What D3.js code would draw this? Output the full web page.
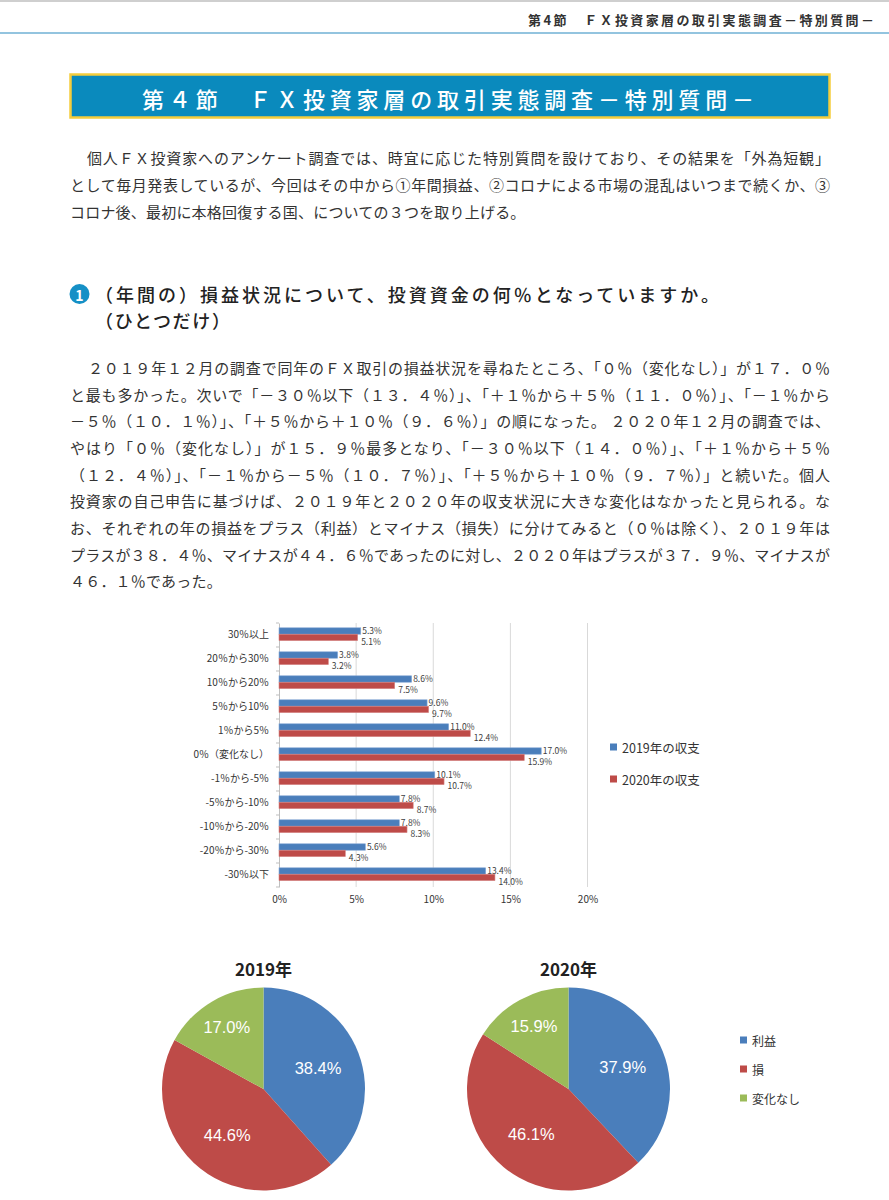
<!DOCTYPE html>
<html lang="ja">
<head>
<meta charset="utf-8">
<script src="https://cdn.jsdelivr.net/npm/d3@7/dist/d3.min.js"></script>
<style>
html,body{margin:0;padding:0;background:#fff;}
svg{display:block;}
</style>
</head>
<body>
<svg id="page" width="889" height="1200"></svg>
<script>
// ---------- text content ----------
const headerText = "第4節　ＦＸ投資家層の取引実態調査－特別質問－";
const titleText = "第４節　ＦＸ投資家層の取引実態調査－特別質問－";
const introLines = [
  "個人ＦＸ投資家へのアンケート調査では、時宜に応じた特別質問を設けており、その結果を「外為短観」",
  "として毎月発表しているが、今回はその中から①年間損益、②コロナによる市場の混乱はいつまで続くか、③",
  "コロナ後、最初に本格回復する国、についての３つを取り上げる。"
];
const questionNumber = "1";
const questionLines = [
  "（年間の）損益状況について、投資資金の何％となっていますか。",
  "（ひとつだけ）"
];
const bodyLines = [
  "２０１９年１２月の調査で同年のＦＸ取引の損益状況を尋ねたところ、「０％（変化なし）」が１７．０％",
  "と最も多かった。次いで「－３０％以下（１３．４％）」、「＋１％から＋５％（１１．０％）」、「－１％から",
  "－５％（１０．１％）」、「＋５％から＋１０％（９．６％）」の順になった。 ２０２０年１２月の調査では、",
  "やはり「０％（変化なし）」が１５．９％最多となり、「－３０％以下（１４．０％）」、「＋１％から＋５％",
  "（１２．４％）」、「－１％から－５％（１０．７％）」、「＋５％から＋１０％（９．７％）」と続いた。個人",
  "投資家の自己申告に基づけば、２０１９年と２０２０年の収支状況に大きな変化はなかったと見られる。な",
  "お、それぞれの年の損益をプラス（利益）とマイナス（損失）に分けてみると（０％は除く）、２０１９年は",
  "プラスが３８．４％、マイナスが４４．６％であったのに対し、２０２０年はプラスが３７．９％、マイナスが",
  "４６．１％であった。"
];

// ---------- chart data ----------
const categories = ["30％以上","20％から30％","10％から20％","5％から10％","1％から5％","0％（変化なし）","-1％から-5％","-5％から-10％","-10％から-20％","-20％から-30％","-30％以下"];
const values2019 = [5.3, 3.8, 8.6, 9.6, 11.0, 17.0, 10.1, 7.8, 7.8, 5.6, 13.4];
const values2020 = [5.1, 3.2, 7.5, 9.7, 12.4, 15.9, 10.7, 8.7, 8.3, 4.3, 14.0];
const seriesNames = ["2019年の収支", "2020年の収支"];
const xTickValues = [0, 5, 10, 15, 20];

const pieCategories = ["利益", "損", "変化なし"];
const pie2019 = [38.4, 44.6, 17.0];
const pie2020 = [37.9, 46.1, 15.9];
const pieTitles = ["2019年", "2020年"];

// ---------- styles ----------
const JP = "'Noto Sans CJK JP','Noto Sans',sans-serif";
const BLUE = "#4a7ebb", RED = "#be4b48", GREEN = "#9bbb59";

const svg = d3.select("#page");

// top rules
svg.append("rect").attr("x",0).attr("y",0).attr("width",889).attr("height",2).attr("fill","#cfcfcf");
svg.append("rect").attr("x",0).attr("y",32).attr("width",889).attr("height",2).attr("fill","#93c4df");

svg.append("text").attr("x",528).attr("y",19).attr("dominant-baseline","central")
  .attr("font-family",JP).attr("font-size",13).attr("font-weight",700).attr("fill","#333")
  .attr("textLength",346).attr("lengthAdjust","spacing").text(headerText);

// title box
svg.append("rect").attr("x",70.5).attr("y",74.5).attr("width",759).attr("height",43)
  .attr("fill","#0a8abd").attr("stroke","#f5cd3c").attr("stroke-width",2.5);
svg.append("text").attr("x",142).attr("y",97.5).attr("dominant-baseline","central")
  .attr("font-family",JP).attr("font-size",22).attr("font-weight",500).attr("fill","#fff")
  .attr("textLength",612).attr("lengthAdjust","spacing").text(titleText);

// paragraph helper
function paragraph(lines, y0, step, indentX) {
  lines.forEach((t, i) => {
    const x = i === 0 ? indentX : 70;
    const last = i === lines.length - 1;
    const el = svg.append("text").attr("x", x).attr("y", y0 + i * step)
      .attr("dominant-baseline","central")
      .attr("font-family", JP).attr("font-size", 15).attr("fill", "#333").text(t);
    if (!last) el.attr("textLength", 830 - x).attr("lengthAdjust","spacing");
    else el.attr("letter-spacing", 0.2);
  });
}
paragraph(introLines, 157, 27, 87);

// question heading
svg.append("circle").attr("cx",79.5).attr("cy",294).attr("r",10).attr("fill","#1590c6");
svg.append("text").attr("x",79.5).attr("y",294.5).attr("text-anchor","middle").attr("dominant-baseline","central")
  .attr("font-family",JP).attr("font-size",14).attr("font-weight",700).attr("fill","#fff").text(questionNumber);
questionLines.forEach((t,i) => {
  const el = svg.append("text").attr("x",95).attr("y",294 + i*26).attr("dominant-baseline","central")
    .attr("font-family",JP).attr("font-size",18).attr("font-weight",500).attr("fill","#222").text(t);
  if (i === 0) el.attr("textLength",624).attr("lengthAdjust","spacing");
  else el.attr("textLength",135).attr("lengthAdjust","spacing");
});

paragraph(bodyLines, 367.5, 26.65, 88);

// ---------- bar chart ----------
const x = d3.scaleLinear().domain([0,20]).range([279,587.5]);
const y = d3.scaleBand().domain(categories).range([623,887]).padding(0);
const sub = d3.scaleBand().domain([0,1]).range([y.bandwidth()*0.2, y.bandwidth()*0.735]);

const chart = svg.append("g");
// gridlines
chart.selectAll("line.grid").data(xTickValues.filter(d=>d>0)).join("line")
  .attr("x1",d=>x(d)).attr("x2",d=>x(d)).attr("y1",623).attr("y2",887)
  .attr("stroke","#d9d9d9").attr("stroke-width",1);

// left axis
const yAxis = d3.axisLeft(y).tickSize(0).tickPadding(10);
const yg = chart.append("g").attr("transform",`translate(${x(0)},0)`).call(yAxis);
yg.select(".domain").attr("stroke","#bfbfbf");
yg.selectAll("text").attr("font-family",JP).attr("font-size",10).attr("fill","#333");
// boundary ticks
chart.selectAll("line.btick").data(d3.range(categories.length+1)).join("line")
  .attr("x1",x(0)-3).attr("x2",x(0))
  .attr("y1",i=>623 + i*y.bandwidth()).attr("y2",i=>623 + i*y.bandwidth())
  .attr("stroke","#bfbfbf");

// bottom axis labels
const xAxis = d3.axisBottom(x).tickValues(xTickValues).tickFormat(d=>d+"%").tickSize(0).tickPadding(10);
const xg = chart.append("g").attr("transform","translate(0,893)").call(xAxis);
xg.select(".domain").remove();
xg.selectAll("text").attr("font-family",JP).attr("font-size",10).attr("fill","#333").attr("dy","0");

const series = [values2019, values2020];
const colors = [BLUE, RED];
const strokes = ["#86a9d6","#d68886"];
series.forEach((vals, si) => {
  const g = chart.append("g");
  g.selectAll("rect").data(vals).join("rect")
    .attr("x", x(0)).attr("y", (d,i)=>y(categories[i]) + sub(si))
    .attr("width", d=>x(d)-x(0)).attr("height", sub.bandwidth())
    .attr("fill", colors[si]).attr("stroke", strokes[si]).attr("stroke-width",0.6);
  g.selectAll("text").data(vals).join("text")
    .attr("x", d=>x(d) + (si===0?1.5:3.5))
    .attr("y", (d,i)=>y(categories[i]) + sub(si) + sub.bandwidth()/2 + (si===0?-1:3.4))
    .attr("dominant-baseline","central")
    .attr("font-family",JP).attr("font-size",8.5).attr("fill","#404040")
    .text(d=>d.toFixed(1)+"%");
});

// legend
seriesNames.forEach((n,i) => {
  const ly = 747 + i*32;
  svg.append("rect").attr("x",610).attr("y",ly-3.5).attr("width",7).attr("height",7).attr("fill",colors[i]);
  svg.append("text").attr("x",622).attr("y",ly).attr("dominant-baseline","central")
    .attr("font-family",JP).attr("font-size",12.5).attr("fill","#333").text(n);
});

// ---------- pies ----------
const pieColors = d3.scaleOrdinal().domain(pieCategories).range([BLUE, RED, GREEN]);
const pieGen = d3.pie().sort(null).value(d=>d);
const R = 101.5;
const arc = d3.arc().innerRadius(0).outerRadius(R);
const pieCenters = [263.5, 568.5];
[pie2019, pie2020].forEach((vals, pi) => {
  const g = svg.append("g").attr("transform",`translate(${pieCenters[pi]},1089)`);
  const arcs = pieGen(vals);
  g.selectAll("path").data(arcs).join("path").attr("d",arc)
    .attr("fill",(d,i)=>pieColors(pieCategories[i]));
  g.selectAll("text").data(arcs).join("text")
    .attr("transform", d => {
      const lr = d.data < 20 ? R*0.71 : R*0.575;
      const a = (d.startAngle + d.endAngle)/2;
      return `translate(${Math.sin(a)*lr},${-Math.cos(a)*lr})`;
    })
    .attr("text-anchor","middle").attr("dominant-baseline","central")
    .attr("font-family","'Liberation Sans',Arial,sans-serif").attr("font-size",16.5)
    .attr("fill","#fff").text(d=>d.data.toFixed(1)+"%");
  svg.append("text").attr("x",pieCenters[pi]).attr("y",968).attr("text-anchor","middle")
    .attr("dominant-baseline","central").attr("font-family",JP).attr("font-size",17)
    .attr("font-weight",700).attr("fill","#222").text(pieTitles[pi]);
});

// pie legend
pieCategories.forEach((c,i) => {
  const ly = 1040 + i*29;
  svg.append("rect").attr("x",740).attr("y",ly-3.5).attr("width",7).attr("height",7).attr("fill",pieColors(c));
  svg.append("text").attr("x",752).attr("y",ly).attr("dominant-baseline","central")
    .attr("font-family",JP).attr("font-size",12).attr("fill","#333").text(c);
});
</script>
</body>
</html>
